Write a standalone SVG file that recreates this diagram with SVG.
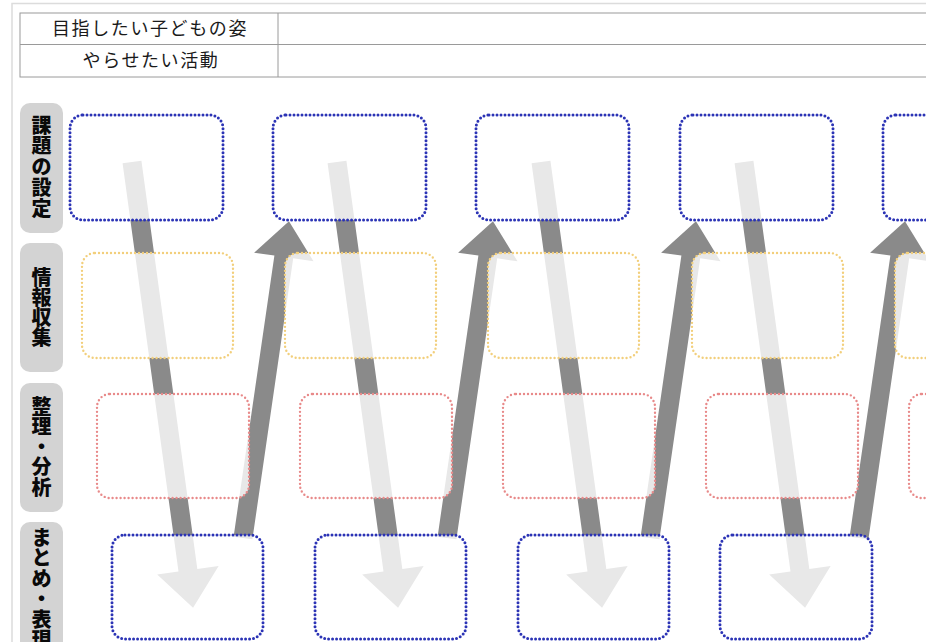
<svg xmlns="http://www.w3.org/2000/svg" width="926" height="642" viewBox="0 0 926 642">
<style>
.page{fill:none;stroke:#dcdcdc;stroke-width:1.5}
.tbl{fill:#fff;stroke:#9a9a9a;stroke-width:1}
.tt{font-family:"Noto Sans CJK JP","Noto Sans",sans-serif;font-size:18px;fill:#1a1a1a;text-anchor:middle;letter-spacing:1.6px}
.lab{fill:#d3d3d3}
.lt{font-family:"Noto Sans CJK JP","Noto Sans",sans-serif;font-size:20px;font-weight:900;fill:#0a0a0a;text-anchor:middle}
.arr{fill:#8a8a8a}
.bx{fill:#fff;fill-opacity:0.8;stroke-linecap:round;stroke-dasharray:0 4}
.blue{stroke:#2b33b5;stroke-width:3}
.yel{stroke:#f2cf7c;stroke-width:2.4}
.red{stroke:#e88a8a;stroke-width:2.4}
</style>
<defs>
<path id="down" d="M-9.5,0 L9.5,0 L9.5,412 L31,412 L0,450 L-31,412 L-9.5,412 Z"/>
<path id="up" d="M-9.5,0 L-9.5,-284 L-30,-284 L0,-320 L30,-284 L9.5,-284 L9.5,0 Z"/>
</defs>
<rect width="926" height="642" fill="#fff"/>
<path class="page" d="M12,642 L12,3.5 L926,3.5"/>
<g id="table">
<rect class="tbl" x="20" y="13" width="920" height="64"/>
<line class="tbl" x1="20" y1="44.5" x2="926" y2="44.5"/>
<line class="tbl" x1="278" y1="13" x2="278" y2="77"/>
<text class="tt" x="150" y="35">目指したい子どもの姿</text>
<text class="tt" x="151" y="67">やらせたい活動</text>
</g>
<g id="label-kadai">
<rect class="lab" x="20" y="103" width="43" height="130" rx="10"/>
<text class="lt"><tspan x="41.5" y="132.5">課</tspan><tspan x="41.5" y="153.2">題</tspan><tspan x="41.5" y="174">の</tspan><tspan x="41.5" y="194.7">設</tspan><tspan x="41.5" y="215.5">定</tspan></text>
</g>
<g id="label-joho">
<rect class="lab" x="20" y="243" width="43" height="129" rx="10"/>
<text class="lt"><tspan x="41.5" y="284.5">情</tspan><tspan x="41.5" y="304.5">報</tspan><tspan x="41.5" y="324.5">収</tspan><tspan x="41.5" y="344.5">集</tspan></text>
</g>
<g id="label-seiri">
<rect class="lab" x="20" y="383" width="43" height="129" rx="10"/>
<text class="lt"><tspan x="41.5" y="413.5">整</tspan><tspan x="41.5" y="433.7">理</tspan><tspan x="41.5" y="454">・</tspan><tspan x="41.5" y="474.2">分</tspan><tspan x="41.5" y="494.5">析</tspan></text>
</g>
<g id="label-matome">
<rect class="lab" x="20" y="522" width="43" height="140" rx="10"/>
<text class="lt"><tspan x="41.5" y="544.5">ま</tspan><tspan x="41.5" y="565">と</tspan><tspan x="41.5" y="585.5">め</tspan><tspan x="41.5" y="606">・</tspan><tspan x="41.5" y="626.5">表</tspan><tspan x="41.5" y="647">現</tspan></text>
</g>
<g id="connectors">
<use href="#down" class="arr" transform="translate(132,162) rotate(-7.8)"/>
<use href="#down" class="arr" transform="translate(337,162) rotate(-7.8)"/>
<use href="#down" class="arr" transform="translate(541,162) rotate(-7.8)"/>
<use href="#down" class="arr" transform="translate(744,162) rotate(-7.8)"/>
<use href="#up" class="arr" transform="translate(243,538) rotate(8.26)"/>
<use href="#up" class="arr" transform="translate(447,538) rotate(8.26)"/>
<use href="#up" class="arr" transform="translate(650,538) rotate(8.26)"/>
<use href="#up" class="arr" transform="translate(859,538) rotate(8.26)"/>
</g>
<g id="n-r1c1"><rect class="bx blue" x="70" y="115" width="153" height="105" rx="13"/></g>
<g id="n-r1c2"><rect class="bx blue" x="273" y="115" width="153" height="105" rx="13"/></g>
<g id="n-r1c3"><rect class="bx blue" x="476" y="115" width="153" height="105" rx="13"/></g>
<g id="n-r1c4"><rect class="bx blue" x="680" y="115" width="153" height="105" rx="13"/></g>
<g id="n-r1c5"><rect class="bx blue" x="883" y="115" width="153" height="105" rx="13"/></g>
<g id="n-r2c1"><rect class="bx yel" x="82" y="253" width="151" height="105" rx="13"/></g>
<g id="n-r2c2"><rect class="bx yel" x="285" y="253" width="151" height="105" rx="13"/></g>
<g id="n-r2c3"><rect class="bx yel" x="488" y="253" width="151" height="105" rx="13"/></g>
<g id="n-r2c4"><rect class="bx yel" x="692" y="253" width="151" height="105" rx="13"/></g>
<g id="n-r2c5"><rect class="bx yel" x="895" y="253" width="151" height="105" rx="13"/></g>
<g id="n-r3c1"><rect class="bx red" x="97" y="394" width="152" height="104" rx="13"/></g>
<g id="n-r3c2"><rect class="bx red" x="300" y="394" width="152" height="104" rx="13"/></g>
<g id="n-r3c3"><rect class="bx red" x="503" y="394" width="152" height="104" rx="13"/></g>
<g id="n-r3c4"><rect class="bx red" x="706" y="394" width="152" height="104" rx="13"/></g>
<g id="n-r3c5"><rect class="bx red" x="909" y="394" width="152" height="104" rx="13"/></g>
<g id="n-r4c1"><rect class="bx blue" x="112" y="535" width="151" height="104" rx="13"/></g>
<g id="n-r4c2"><rect class="bx blue" x="315" y="535" width="151" height="104" rx="13"/></g>
<g id="n-r4c3"><rect class="bx blue" x="518" y="535" width="151" height="104" rx="13"/></g>
<g id="n-r4c4"><rect class="bx blue" x="720" y="535" width="152" height="104" rx="13"/></g>
</svg>
